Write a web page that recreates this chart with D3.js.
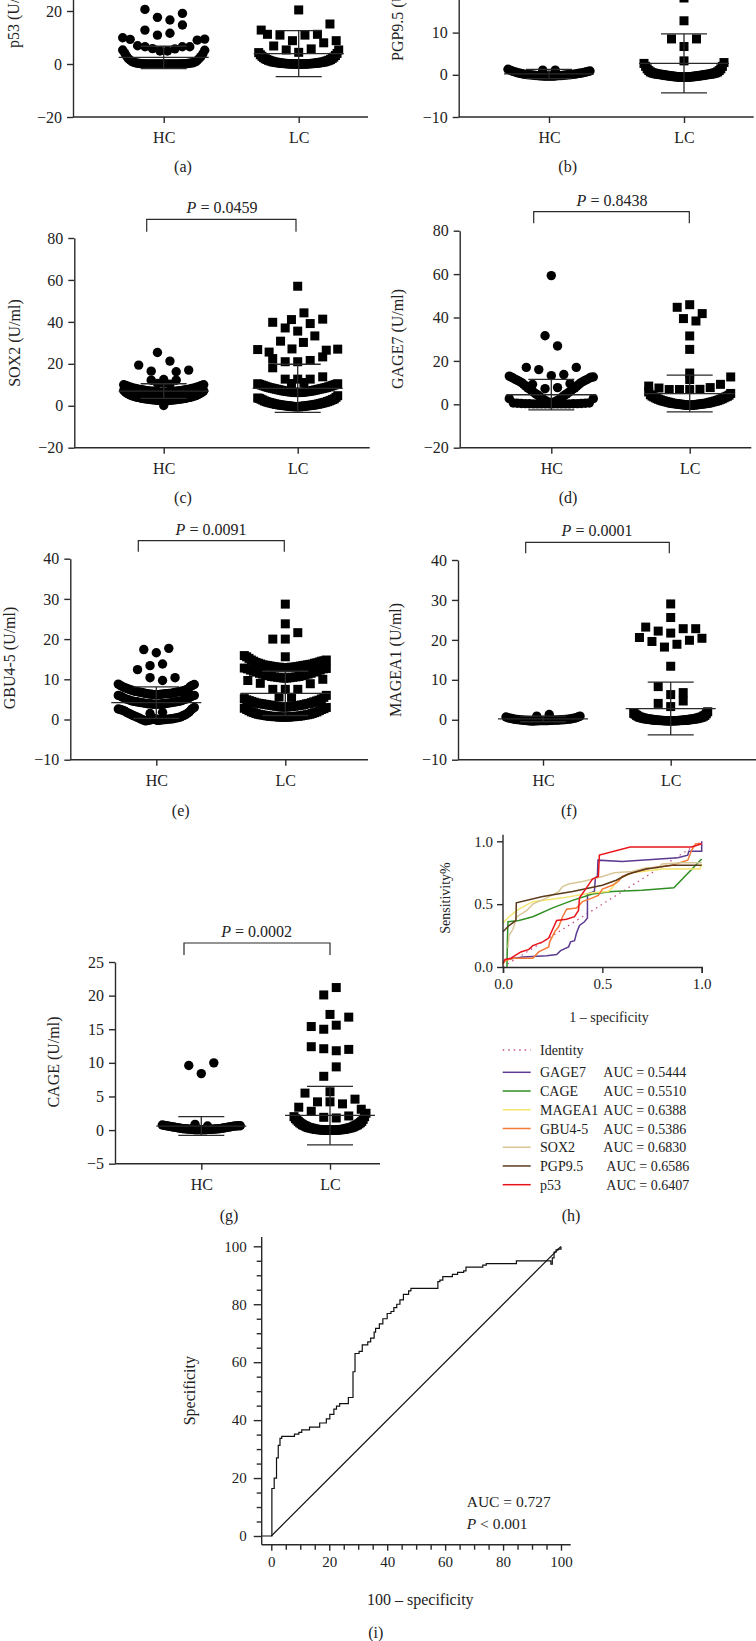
<!DOCTYPE html>
<html>
<head>
<meta charset="utf-8">
<script src="https://cdn.jsdelivr.net/npm/d3@7"></script>
<style>
  body { margin: 0; background: #fff; overflow: hidden; }
  text { font-family: "Liberation Serif", serif; fill: #222; }
</style>
</head>
<body>
<div id="chart"></div>
<script>
/* Data ************************************************************************/

// every series is a list of rows; each row is listed from its centre outwards, left value first
const groups = ['HC', 'LC'];

const p53_hc = [
    [0,0,0,0,0,0,0,0,0,0,0,0,0,0,0,0,.05,.05,.05,.1,.1,.1,.15,.15,.2,.2,.3,.3,.4,.4,.6,.5,.9,.8,1.4,1.3,2,2,3,2.8,4.2,3.8,5.3,5.2],
    [4.9,4.9,5.8,5.7,6.5,6.5,6.9,6.5,9.3,9,9.9,9.4],
    [10.9,11.6,12.8,14.7],
    [17.6,16.6,20.6,19.1]];
const p53_lc = [
    [0,0,0,0,0,0,0,0,.05,.05,.05,.1,.1,.1,.15,.15,.2,.2,.25,.25,.3,.3,.4,.4,.5,.5,.6,.6,.7,.7,.8,.8,1,1,1.2,1.2,1.4,1.4,1.7,1.7,2,2.1,2.4,2.6,2.9,3.2,3.5,4,4.3,5.3],
    [4.4,5.3,5.7,6.8,8,12.8,8.8],
    [8.8,10.9,10.9,11.2,11.2,15.1],
    [20.4]];

const pgp_hc = [
    [-.3,-.3,-.3,-.3,-.3,-.3,-.25,-.25,-.25,-.2,-.2,-.2,-.15,-.15,-.1,-.1,-.05,-.05,0,0,.05,.05,.1,.1,.15,.15,.25,.2,.35,.3,.45,.35,.6,.45,.75,.55,.9,.65,1.1,.8,1.3,.9],
    [1.1,1.1]];
const pgp_lc = [
    [-.55,-.55,-.55,-.55,-.55,-.5,-.5,-.5,-.5,-.45,-.45,-.4,-.4,-.35,-.35,-.3,-.3,-.25,-.25,-.2,-.2,-.15,-.15,-.1,-.1,0,0,.05,.05,.1,.1,.15,.15,.2,.2,.3,.3,.4,.4,.5,.5,.7,.7,1,1,1.4,1.4,2,2,2.7,2.9],
    [3.3],
    [6.7,8.5,8.5],
    [12.8],
    [18.2]];

const sox_hc = [
    [2.3,2.3,2.4,2.4,2.5,2.5,2.6,2.6,2.7,2.7,2.8,2.8,2.9,2.9,3,3,3.1,3.1,3.2,3.2,3.3,3.3,3.5,3.5,3.6,3.6,3.8,3.8,4,4,4.2,4.2,4.4,4.4,4.7,4.7,5,5,5.4,5.4,5.9,5.9,6.5,6.4,7.3,7.1],
    [6.5,6.5,6.5,6.5,6.6,6.6,6.7,6.7,6.8,6.8,6.9,6.9,7,7,7.1,7.1,7.2,7.2,7.3,7.3,7.5,7.5,7.6,7.6,7.8,7.8,8,8,8.2,8.2,8.4,8.4,8.7,8.7,9,9,9.3,9.3,9.7,9.7,10,10],
    [.1],
    [10.6,10.3],
    [10.8,12.2,12.2],
    [12.5,16.5,16.2,19.4,17],
    [25.4,21.3]];
const sox_lc = [
    [-.5,-.5,-.4,-.4,-.4,-.3,-.3,-.2,-.2,-.1,-.1,0,0,.1,.1,.2,.2,.3,.3,.4,.4,.6,.6,.7,.7,.9,.9,1.1,1.1,1.3,1.3,1.5,1.5,1.7,1.7,2,2,2.3,2.3,2.6,2.7,3,3.1,3.3,3.5,4,3.7,4.8],
    [6.3,6.3,6.4,6.4,6.5,6.5,6.6,6.6,6.7,6.7,6.8,6.8,7,7,7.1,7.1,7.3,7.3,7.5,7.5,7.7,7.7,7.9,7.9,8.1,8.1,8.3,8.3,8.5,8.5,8.7,8.7,9,9,9.3,9.3,9.6,9.6,9.9,9.9,10.2,10.2,10.5,10.5],
    [10.6,11.1],
    [12.7,12.7,12.7,18.1,13.8],
    [21,21,21.6,22.5,23.3],
    [27.1,30.2,30.8,33.3,25.6,26.5,26.8,27],
    [35.6,37.1,39.2,39.8,41.3],
    [41.1,44.3],
    [57]];

const gage_hc = [
    [.2,.2,.2,.2,.2,.2,.2,.2,.2,.2,.25,.25,.3,.3,.4,.4,.5,.5,.6,.6,2.6,2.6],
    [.8,.8,1,1,1.5,1.5,2,2,2.8,2.8,3.5,3.5,4.2,4.2,4.8,4.8,5.5,5.5,6.2,6.2,7,7,7.6,7.6,8.4,8.4,9.2,9.2,10,10,10.5,10.5,11,11,11.5,11.5,12,12,12.5,12.5,13,12.6],
    [7.2,7.7,9.2,9.5],
    [13.2,16,13.7,17,17],
    [31.6,26.9],
    [59.3]];
const gage_lc = [
    [-.5,-.5,-.4,-.4,-.3,-.3,-.2,-.2,-.1,-.1,0,0,.1,.1,.2,.2,.3,.3,.4,.4,.5,.5,.7,.7,.9,.9,1.1,1.1,1.3,1.3,1.5,1.5,1.7,1.7,2,2,2.3,2.3,2.6,2.6,3,3,3.4,3.4,3.8,3.7,4.4,4.2,5.7,5],
    [6.8,6.8,6.9,6.8,7.7,7.5,9.2,8.4,12.6],
    [11.4],[14.4],[25.3],[31.5],
    [39.5,38.4],
    [45.9,44.7,41.8]];

const gbu_hc = [
    [.2,-.2,.1,-.2,0,-.1,-.1,-.1,-.2,0,-.3,0,-.3,.1,-.1,.1,.1,.2,.3,.2,.5,.3,.7,.4,.9,.5,1.1,.6,1.3,.8,1.5,1,1.7,1.2,2,1.5,2.2,1.8,2.4,2.3,2.5,2.7,2.6,3],
    [1.5,1.8],
    [3.8,3.8,3.8,3.8,3.9,3.9,3.9,3.9,4,4,4.1,4.1,4.2,4.2,4.3,4.3,4.4,4.4,4.5,4.5,4.6,4.6,4.8,4.8,5,5,5.2,5.2,5.5,5.5,5.8,5.8,6,6],
    [6.2,6.2,6.2,6.2,6.3,6.3,6.3,6.3,6.4,6.4,6.5,6.4,6.6,6.5,6.7,6.5,6.8,6.6,6.9,6.7,7,6.8,7.1,6.9,7.3,7,7.4,7.1,7.6,7.2,7.8,7.4,8,7.7,8.2,8.2,8.5,8.5,8.8,8.7],
    [10.4,9.7],
    [13.4,13.8,12.4,10.4],
    [16.6,17.4,17.7]];
const gbu_lc = [
    [.6,.6,.6,.6,.6,.7,.7,.7,.7,.8,.8,.8,.8,.9,.9,1,1,1.1,1.1,1.2,1.2,1.3,1.3,1.5,1.5,1.7,1.7,1.9,1.9,2.2,2.2,2.5,2.5,2.7,2.8,3],
    [3.1,3.1,3.1,3.2,3.2,3.2,3.3,3.3,3.4,3.4,3.5,3.5,3.6,3.6,3.7,3.7,3.8,3.9,3.9,4,4,4.2,4.1,4.4,4.3,4.6,4.5,4.8,4.7,5.1,4.9,5.5,5.2,6],
    [5.6,5.5],
    [7.5,7.5,7.5,9,8.9,9.7,10],
    [10.3,10.3,10.4,10.4,10.5,10.5,10.6,10.6,10.7,10.7,10.9,10.9,11.1,11.1,11.3,11.3,11.5,11.5,11.8,11.8,12,12,12.3,12.3,12.6,12.6,12.8,12.7],
    [12.9,12.9,12.9,12.9,13,13,13,13,13.1,13.1,13.2,13.2,13.3,13.3,13.4,13.4,13.5,13.5,13.6,13.6,13.8,13.7,14,13.8,14.2,14,14.5,14.1,14.8,14.3,15.2,14.5,15.6,14.6,15.9,14.8],
    [15.6],
    [20,20,21.6],
    [23.8],
    [28.7]];

const mage_hc = [
    [-.2,-.2,-.2,-.2,-.25,-.2,-.25,-.15,-.3,-.15,-.3,-.1,-.3,-.1,-.25,-.1,-.2,-.05,-.15,0,-.1,0,-.05,.05,0,.1,.05,.15,.1,.2,.2,.3,.3,.4,.4,.5,.5,.7,.7,.9],
    [.9,1.3]];
const mage_lc = [
    [-.25,-.25,-.25,-.25,-.25,-.25,-.25,-.25,-.2,-.2,-.2,-.2,-.2,-.2,-.15,-.15,-.15,-.15,-.1,-.1,-.1,-.1,-.05,-.05,0,0,.05,.05,.1,.1,.15,.15,.2,.2,.25,.25,.3,.3,.4,.4,.5,.5,.6,.6,.7,.7,.9,.9,1.1,1.1,1.4,1.5,1.6,2],
    [3.3,4.1,4.7],
    [6.3,8.3,6.8],
    [13.4],
    [18.2,18.9,19.6,19.9,20.6,20.4],
    [21.7,22.2,22.8,23.2,22.8],
    [25.6],
    [29]];

const cage_hc = [
    [.05,.05,.05,.05,.05,.05,.05,.1,.1,.1,.1,.1,.15,.15,.15,.15,.2,.2,.2,.2,.25,.25,.3,.3,.35,.35,.4,.4,.45,.45,.5,.5,.55,.55,.6,.6,.65,.6,.7,.65,.75,.65],
    [.85,.6],
    [8.4,9.6,10]];
const cage_lc = [
    [0,0,0,0,0,0,0,0,0,0,.02,.02,.05,.05,.05,.05,.1,.1,.1,.1,.15,.15,.2,.2,.25,.25,.3,.3,.35,.35,.4,.4,.5,.5,.6,.6,.7,.7,.8,.8,.95,.95,1.1,1.1,1.3,1.3,1.5,1.6,1.7,2,2,2.5],
    [1.9,1.8,2.8,2.1,3.4,3.1],
    [4.2,4.2,3.9,5.5,4.6],
    [5.7],
    [8,9.4],
    [12.1,11.8,12.4,12],
    [15,15.6,15.4,16.8],
    [17.2],
    [20.1,21.2]];

// mean, low whisker, high whisker for HC then LC
const p53_stats  = [[2.5, -1.7, 6.7], [3.9, -4.8, 12.6]];
const pgp_stats  = [[.2, -.9, 1.3], [2.7, -4.3, 9.7]];
const sox_stats  = [[7, 3.5, 10.5], [8.3, -3.2, 19.8]];
const gage_stats = [[4.4, -2.6, 11.5], [4.9, -3.5, 13.4]];
const gbu_stats  = [[4.2, .3, 8.1], [6.5, 1, 12]];
const mage_stats = [[.2, -.5, .9], [2.8, -3.8, 9.4]];
const cage_stats = [[.6, -.8, 2], [2.2, -2.2, 6.5]];

// ROC curves of panel (h), as [1 - specificity, sensitivity]
const roc_gage = [[0,.04],[.02,.06],[.1,.08],[.22,.09],[.27,.1],[.29,.13],[.33,.16],[.34,.2],[.36,.21],[.37,.27],[.385,.33],[.41,.36],[.425,.39],[.425,.58],[.46,.6],[.465,.71],[.475,.72],[.478,.85],[.6,.84],[.88,.87],[.93,.89],[.935,.92],[1,.92],[1,1]];
const roc_cage = [[.02,0],[.022,.2],[.025,.36],[.08,.37],[.15,.4],[.25,.47],[.35,.53],[.45,.58],[.55,.6],[.7,.61],[.86,.63],[1,.86]];
const roc_mage = [[0,.35],[.03,.4],[.08,.46],[.15,.52],[.3,.55],[.45,.59],[.53,.6],[.55,.63],[.58,.7],[.65,.75],[.8,.78],[.99,.78],[1,.82]];
const roc_gbu  = [[0,.02],[.01,.05],[.05,.07],[.15,.07],[.18,.12],[.23,.16],[.235,.2],[.26,.28],[.28,.32],[.3,.4],[.32,.46],[.37,.47],[.4,.52],[.45,.55],[.48,.57],[.5,.62],[.55,.65],[.58,.68],[.6,.72],[.65,.75],[.75,.79],[.85,.81],[.93,.85],[.95,.93],[.97,.98],[1,.98]];
const roc_sox  = [[.025,.15],[.03,.25],[.05,.3],[.07,.4],[.12,.45],[.15,.5],[.22,.55],[.28,.6],[.3,.64],[.33,.66],[.4,.68],[.45,.7],[.5,.72],[.56,.75],[.65,.76],[.72,.79],[.78,.79],[.8,.82],[.9,.83],[1,.83]];
const roc_pgp  = [[0,.28],[.03,.33],[.065,.37],[.067,.51],[.2,.56],[.35,.6],[.5,.65],[.57,.69],[.63,.74],[.72,.78],[.85,.81],[1,.81]];
const roc_p53  = [[0,.03],[.01,.06],[.04,.07],[.06,.09],[.09,.12],[.13,.14],[.15,.17],[.2,.2],[.23,.23],[.25,.3],[.27,.37],[.32,.38],[.36,.4],[.38,.45],[.385,.55],[.42,.63],[.45,.7],[.48,.72],[.485,.89],[.64,.955],[.95,.955],[1,.98]];
const roc_identity = [[0,0],[1,1]];

const legend_names = ['GAGE7','CAGE','MAGEA1','GBU4-5','SOX2','PGP9.5','p53'];
const legend_aucs  = ['0.5444','0.5510','0.6388','0.5386','0.6830','0.6586','0.6407'];
const legend_curves = [roc_gage, roc_cage, roc_mage, roc_gbu, roc_sox, roc_pgp, roc_p53];
const legend_colors = ['#5d3a92','#2f8f22','#f3e56e','#f47a38','#d8c898','#5b3a1c','#e8141c'];

// combined ROC curve of panel (i)
const combined_x = [-3.3,.2,1,1.8,2.4,3,3.6,8,9.5,10.5,13.2,16.7,19,20.2,21.6,22.5,23.6,26.6,28.2,28.9,30.3,31.4,33.3,34.3,35.5,36,37.3,38.5,40,41.3,42.3,43.3,44.4,45.6,47.4,48.2,57.5,58.2,59.2,62.5,64.3,66.4,67.2,73,74.2,84.6,96.5,97,97.6,98.3,99,100];
const combined_y = [0,16.4,20,27,31.3,33.7,34.4,35.2,35.8,36.6,37.6,39,40.4,42,43.8,44.8,45.7,47.8,56.7,63,63.7,66,67,68.3,70.4,71.7,73.2,75,76.8,77.5,78.8,80,81.5,83.4,84.6,85.5,87.8,88.3,89.5,90.3,91,91.5,92.8,93.5,94,95,93.8,96,98,98.8,99,99.8];

/* Layout **********************************************************************/

const width = 756, height = 1641;
const ink = '#2a2a2a', font_px = 16;

const panels = [
    { caption:'(a)', cap_x:183, cap_y:172, ytitle:'p53 (U/ml)', title_x:19, title_y:48, title_anchor:'start',
      ys:[-20,40], yr:[117,-42], ytics:[-20,0,20], left:73, right:368, xs:[163.7,298.7],
      series:[p53_hc,p53_lc], stats:p53_stats, hw:[41,40], pval:null },
    { caption:'(b)', cap_x:567.7, cap_y:172, ytitle:'PGP9.5 (U/ml)', title_x:403, title_y:61, title_anchor:'start',
      ys:[-10,20], yr:[117,-9.6], ytics:[-10,0,10], left:458.7, right:753.7, xs:[549,684],
      series:[pgp_hc,pgp_lc], stats:pgp_stats, hw:[41,40], pval:null },
    { caption:'(c)', cap_x:183, cap_y:503, ytitle:'SOX2 (U/ml)', title_x:20, title_y:343, title_anchor:'middle',
      ys:[-20,80], yr:[447.7,238], ytics:[-20,0,20,40,60,80], left:74.3, right:369.7, xs:[163.7,297.7],
      series:[sox_hc,sox_lc], stats:sox_stats, hw:[40,40],
      pval:'0.0459', bx:[146.7,296], by:219.3, bh:12.4, px:222 },
    { caption:'(d)', cap_x:568, cap_y:503, ytitle:'GAGE7 (U/ml)', title_x:403, title_y:339, title_anchor:'middle',
      ys:[-20,80], yr:[447.7,230.7], ytics:[-20,0,20,40,60,80], left:459.7, right:751.3, xs:[551.3,689.7],
      series:[gage_hc,gage_lc], stats:gage_stats, hw:[42,41], pval:'0.8438', bx:[533.7,689.3], by:211.7, bh:11.6, px:612 },
    { caption:'(e)', cap_x:180.7, cap_y:815.7, ytitle:'GBU4-5 (U/ml)', title_x:15, title_y:658, title_anchor:'middle',
      ys:[-10,40], yr:[759.7,558.7], ytics:[-10,0,10,20,30,40], left:70.3, right:368, xs:[156.3,285.3],
      series:[gbu_hc,gbu_lc], stats:gbu_stats, hw:[38,41], pval:'0.0091', bx:[138.3,284.3], by:540.7, bh:11, px:211 },
    { caption:'(f)', cap_x:569, cap_y:815.7, ytitle:'MAGEA1 (U/ml)', title_x:401, title_y:660, title_anchor:'middle',
      ys:[-10,40], yr:[759.7,560], ytics:[-10,0,10,20,30,40], left:458, right:756, xs:[543,670.7],
      series:[mage_hc,mage_lc], stats:mage_stats, hw:[37,37], pval:'0.0001', bx:[525.7,669.3], by:542.3, bh:11, px:597 },
    { caption:'(g)', cap_x:229, cap_y:1220.7, ytitle:'CAGE (U/ml)', title_x:59, title_y:1062, title_anchor:'middle',
      ys:[-5,25], yr:[1163.7,962], ytics:[-5,0,5,10,15,20,25], left:115, right:380, xs:[201.3,330],
      series:[cage_hc,cage_lc], stats:cage_stats, hw:[39,36], pval:'0.0002', bx:[184,330], by:943, bh:12, px:256.7 }
];

/* Functions *******************************************************************/

/*
 * Name: swarm_offsets
 * Synop: horizontal pixel offsets for a row of `n` markers, placed from the centre
 *    outwards, left first. Rows wider than `hw` on each side get squeezed.
 */
function swarm_offsets(n, hw)
{
    let step = n > 1 ? Math.min(12.5, 2*hw/(n-1)) : 0;
    return d3.range(n).map(i => {
        if(n % 2)
            return i == 0 ? 0 : (i % 2 ? -1 : 1)*Math.ceil(i/2)*step;
        return (i % 2 ? 1 : -1)*(Math.floor(i/2) + 0.5)*step;
    });
}

function style_axis(g)
{
    g.selectAll('path, line').attr('stroke', ink).attr('stroke-width', 1.4);
    g.selectAll('text').style('fill', '#222').attr('font-size', font_px);
}

function add_text(svg, x, y, txt, size=font_px, anchor='middle')
{
    return svg.append('text').attr('x', x).attr('y', y)
        .attr('font-size', size).attr('text-anchor', anchor).text(txt);
}

function add_vtext(svg, x, y, txt, size=font_px, anchor='middle')
{
    return add_text(svg, x, y, txt, size, anchor)
        .attr('transform', `rotate(-90, ${x}, ${y})`);
}

function build_dots(svg, p)
{
    let y = d3.scaleLinear().domain(p.ys).range(p.yr),
        x = d3.scaleOrdinal().domain(groups).range(p.xs);

    // markers /////////////////////////////////////////////////////////
    groups.forEach((grp, gi) => {
        let marks = svg.append('g');
        p.series[gi].forEach(row => {
            let off = swarm_offsets(row.length, p.hw[gi]);
            row.forEach((val, i) => {
                if(gi == 0)
                    marks.append('circle')
                        .attr('cx', x(grp) + off[i]).attr('cy', y(val)).attr('r', 4.7);
                else
                    marks.append('rect')
                        .attr('x', x(grp) + off[i] - 4.5).attr('y', y(val) - 4.5)
                        .attr('width', 9).attr('height', 9);
            });
        });

        // mean line and whiskers
        let [mean, lo, hi] = p.stats[gi],
            bars = svg.append('g').attr('stroke', ink).attr('stroke-width', 1.3);
        bars.append('line').attr('x1', x(grp)-45).attr('x2', x(grp)+45).attr('y1', y(mean)).attr('y2', y(mean));
        [lo, hi].forEach(v =>
            bars.append('line').attr('x1', x(grp)-23).attr('x2', x(grp)+23).attr('y1', y(v)).attr('y2', y(v)));
        bars.append('line').attr('x1', x(grp)).attr('x2', x(grp)).attr('y1', y(lo)).attr('y2', y(hi));
    });

    // axes ////////////////////////////////////////////////////////////
    let yaxis = svg.append('g').attr('transform', `translate(${p.left},0)`)
        .call(d3.axisLeft(y).tickValues(p.ytics).tickSize(6).tickPadding(5).tickSizeOuter(0))
        .attr('font-family', null);
    style_axis(yaxis);

    let xaxis = svg.append('g').attr('transform', `translate(0,${p.yr[0]})`)
        .call(d3.axisBottom(x).tickSize(6).tickPadding(9).tickSizeOuter(0));
    xaxis.select('.domain').attr('d', `M${p.left},0H${p.right}`);
    style_axis(xaxis);

    add_vtext(svg, p.title_x, p.title_y, p.ytitle, font_px, p.title_anchor);
    add_text(svg, p.cap_x, p.cap_y, p.caption);

    // significance bracket
    if(p.pval) {
        svg.append('path').attr('fill', 'none').attr('stroke', ink).attr('stroke-width', 1.2)
            .attr('d', d3.line()([[p.bx[0], p.by+p.bh], [p.bx[0], p.by], [p.bx[1], p.by], [p.bx[1], p.by+p.bh]]));
        let t = add_text(svg, p.px, p.by-6, '');
        t.append('tspan').attr('font-style', 'italic').text('P');
        t.append('tspan').text(' = ' + p.pval);
    }
}

function build_roc_panel(svg)
{
    let x = d3.scaleLinear().domain([0,1]).range([503,701.7]),
        y = d3.scaleLinear().domain([0,1]).range([967,841.3]),
        line = d3.line().x(d => x(d[0])).y(d => y(d[1]));

    svg.append('path').attr('d', line(roc_identity)).attr('fill', 'none')
        .attr('stroke', '#c4508c').attr('stroke-width', 1.3).attr('stroke-dasharray', '1.5 4');

    legend_curves.forEach((c, i) =>
        svg.append('path').attr('d', line(c)).attr('fill', 'none')
            .attr('stroke', legend_colors[i]).attr('stroke-width', 1.5));

    let yaxis = svg.append('g').attr('transform', 'translate(503,0)')
        .call(d3.axisLeft(y).tickValues([0,.5,1]).tickFormat(d3.format('.1f')).tickSize(6).tickPadding(4));
    yaxis.select('.domain').attr('d', 'M0,967V834.7');
    style_axis(yaxis);
    yaxis.selectAll('text').attr('font-size', 15);

    let xaxis = svg.append('g').attr('transform', 'translate(0,967)')
        .call(d3.axisBottom(x).tickValues([0,.5,1]).tickFormat(d3.format('.1f')).tickSize(6).tickPadding(5));
    style_axis(xaxis);
    xaxis.selectAll('text').attr('font-size', 15);

    add_text(svg, 609, 1021.7, '1 \u2013 specificity', 14);
    add_vtext(svg, 450, 898, 'Sensitivity%', 14);

    // legend //////////////////////////////////////////////////////////
    let rows = d3.scaleLinear().domain([0,6]).range([1072.3,1184.7]);
    svg.append('line').attr('x1', 502.7).attr('x2', 530.7).attr('y1', 1050).attr('y2', 1050)
        .attr('stroke', '#c4508c').attr('stroke-width', 1.3).attr('stroke-dasharray', '1.5 4');
    add_text(svg, 540, 1055, 'Identity', 14, 'start');

    legend_names.forEach((name, i) => {
        svg.append('line').attr('x1', 502.7).attr('x2', 530.7).attr('y1', rows(i)).attr('y2', rows(i))
            .attr('stroke', legend_colors[i]).attr('stroke-width', 1.5);
        add_text(svg, 540, rows(i)+5, name, 14, 'start');
        add_text(svg, i < 5 ? 603.3 : 606.3, rows(i)+5, 'AUC = ' + legend_aucs[i], 14, 'start');
    });

    add_text(svg, 571, 1220.7, '(h)');
}

function build_combined_panel(svg)
{
    let x = d3.scaleLinear().domain([0,100]).range([271.3,561]),
        y = d3.scaleLinear().domain([0,100]).range([1536,1246.3]),
        pts = combined_x.map((v, i) => [v, combined_y[i]]),
        line = d3.line().x(d => x(d[0])).y(d => y(d[1])).curve(d3.curveStepAfter);

    svg.append('path').attr('d', line(pts)).attr('fill', 'none')
        .attr('stroke', '#111').attr('stroke-width', 1.2);
    svg.append('line').attr('x1', x(0)).attr('y1', y(0)).attr('x2', x(100)).attr('y2', y(100))
        .attr('stroke', '#111').attr('stroke-width', 1.2);

    // minor tics first, major tics with labels on top
    let minor = d3.range(0, 101, 5).filter(v => v % 20);

    let yminor = svg.append('g').attr('transform', 'translate(261.7,0)')
        .call(d3.axisLeft(y).tickValues(minor).tickFormat('').tickSize(5));
    yminor.select('.domain').remove();
    style_axis(yminor);
    let yaxis = svg.append('g').attr('transform', 'translate(261.7,0)')
        .call(d3.axisLeft(y).tickValues(d3.range(0,101,20)).tickSize(8).tickPadding(7));
    yaxis.select('.domain').attr('d', 'M0,1544.7V1237');
    style_axis(yaxis);
    yaxis.selectAll('text').attr('font-size', 15);

    let xminor = svg.append('g').attr('transform', 'translate(0,1544.7)')
        .call(d3.axisBottom(x).tickValues(minor).tickFormat('').tickSize(5));
    xminor.select('.domain').remove();
    style_axis(xminor);
    let xaxis = svg.append('g').attr('transform', 'translate(0,1544.7)')
        .call(d3.axisBottom(x).tickValues(d3.range(0,101,20)).tickSize(6).tickPadding(6));
    xaxis.select('.domain').attr('d', 'M261.7,0H570.7');
    style_axis(xaxis);
    xaxis.selectAll('text').attr('font-size', 15);

    add_text(svg, 420.3, 1605, '100 \u2013 specificity');
    add_vtext(svg, 195, 1390.7, 'Specificity');
    add_text(svg, 466.7, 1506.7, 'AUC = 0.727', 15.5, 'start');
    let t = add_text(svg, 466.7, 1529, '', 15.5, 'start');
    t.append('tspan').attr('font-style', 'italic').text('P');
    t.append('tspan').text(' < 0.001');
    add_text(svg, 375.7, 1637.7, '(i)');
}

/* Main ************************************************************************/

let svg = d3.select('#chart').append('svg')
    .attr('width', width).attr('height', height)
    .attr('viewBox', `0 0 ${width} ${height}`);

panels.forEach(p => build_dots(svg, p));
build_roc_panel(svg);
build_combined_panel(svg);
</script>
</body>
</html>
